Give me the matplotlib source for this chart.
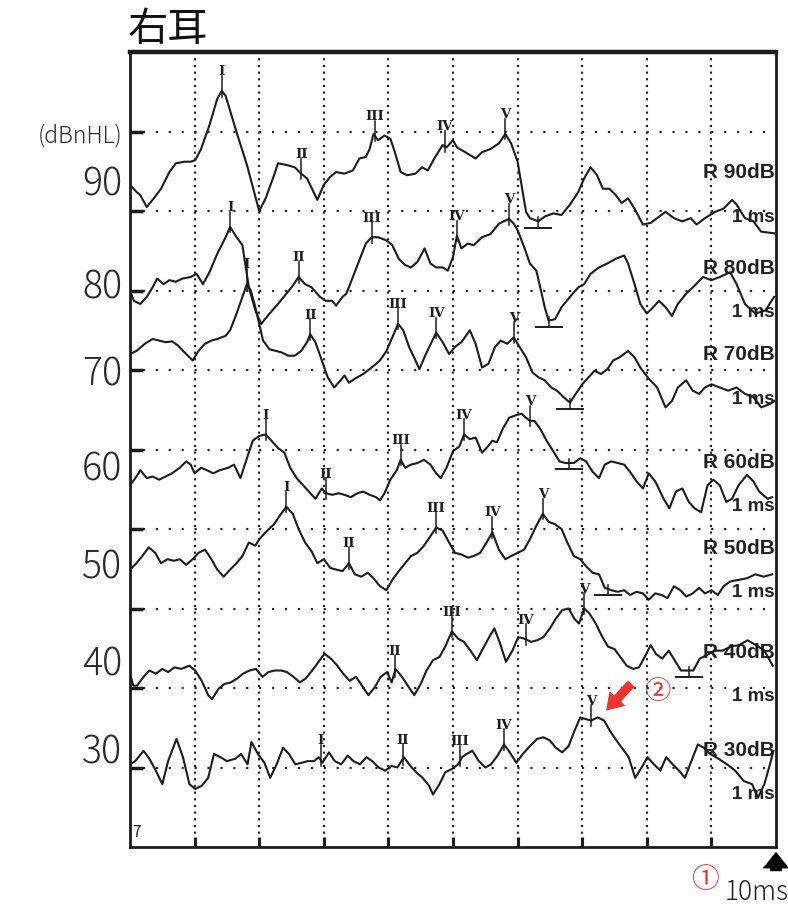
import numpy as np
import matplotlib
matplotlib.use("Agg")
import matplotlib.pyplot as plt
from matplotlib.patches import FancyArrowPatch

plt.rcParams['font.family'] = ['Noto Sans CJK JP', 'DejaVu Sans']

# ---------------- data (time in ms, amplitude in grid units) ----------------
t90 = [0.00,0.10,0.16,0.26,0.35,0.48,0.61,0.71,0.84,0.94,1.01,1.10,1.23,1.35,1.42,1.48,1.65,1.81,2.00,2.10,
       2.23,2.29,2.42,2.55,2.65,2.74,2.90,3.00,3.10,3.19,3.32,3.45,3.55,3.65,3.71,3.77,3.84,3.94,4.03,4.10,
       4.19,4.29,4.42,4.52,4.61,4.71,4.84,4.90,5.00,5.06,5.19,5.35,5.45,5.58,5.71,5.81,5.90,6.00,6.06,6.13,
       6.19,6.32,6.42,6.55,6.68,6.81,6.94,7.03,7.13,7.23,7.32,7.42,7.52,7.61,7.71,7.81,7.94,8.06,8.16,8.29,
       8.42,8.55,8.68,8.77,8.90,9.06,9.19,9.32,9.39,9.52,9.65,9.77,9.97]
v90 = [8.33,8.24,8.20,8.05,8.14,8.28,8.49,8.60,8.62,8.62,8.64,8.78,9.08,9.41,9.51,9.45,8.99,8.58,8.00,8.16,
       8.45,8.60,8.58,8.55,8.47,8.41,8.14,8.33,8.43,8.49,8.47,8.51,8.66,8.68,8.78,8.97,8.89,8.95,8.91,8.74,
       8.49,8.45,8.47,8.55,8.51,8.66,8.83,8.80,8.89,8.80,8.74,8.66,8.74,8.78,8.85,8.97,8.85,8.62,8.33,7.99,
       7.91,7.87,7.93,7.97,7.95,8.08,8.24,8.41,8.55,8.45,8.28,8.28,8.20,8.10,8.16,8.03,7.83,7.85,7.91,7.99,
       7.91,7.87,7.91,7.83,7.91,7.99,8.03,8.14,8.08,7.91,7.87,7.74,7.72]

t80 = [0.00,0.06,0.16,0.26,0.35,0.42,0.52,0.61,0.71,0.81,0.94,1.03,1.13,1.23,1.35,1.48,1.55,1.65,1.74,1.84,
       1.94,2.03,2.16,2.29,2.42,2.52,2.61,2.71,2.81,2.94,3.03,3.13,3.19,3.29,3.35,3.45,3.55,3.65,3.74,3.84,
       3.97,4.06,4.16,4.26,4.35,4.45,4.56,4.65,4.74,4.84,4.92,5.00,5.06,5.13,5.23,5.32,5.45,5.58,5.71,5.81,
       5.87,5.94,6.00,6.10,6.19,6.29,6.35,6.42,6.48,6.58,6.68,6.81,6.94,7.03,7.13,7.26,7.39,7.52,7.65,7.71,
       7.81,7.90,8.00,8.10,8.19,8.29,8.39,8.48,8.61,8.74,8.87,9.00,9.13,9.29,9.39,9.52,9.68,9.84,9.97]
v80 = [7.00,6.87,6.83,6.92,7.04,7.15,7.08,7.13,7.11,7.15,7.17,7.21,7.08,7.23,7.46,7.67,7.80,7.67,7.57,7.04,
       6.75,6.58,6.71,6.83,6.96,7.06,7.17,7.08,7.04,6.92,6.87,6.87,6.81,6.92,6.96,7.17,7.38,7.59,7.67,7.67,
       7.63,7.57,7.40,7.32,7.29,7.36,7.53,7.34,7.29,7.29,7.25,7.42,7.69,7.53,7.59,7.57,7.67,7.71,7.84,7.88,
       7.90,7.84,7.76,7.55,7.34,7.25,7.04,6.79,6.62,6.64,6.79,6.92,7.04,7.08,7.21,7.29,7.34,7.40,7.44,7.34,
       7.08,6.83,6.71,6.79,6.87,6.79,6.68,6.83,6.96,7.06,7.17,7.13,7.17,7.23,7.08,6.83,6.71,6.75,6.92]

t70 = [0.00,0.10,0.23,0.35,0.45,0.55,0.65,0.74,0.87,0.97,1.06,1.16,1.26,1.35,1.48,1.55,1.65,1.74,1.81,1.87,
       1.94,2.00,2.06,2.16,2.26,2.35,2.45,2.55,2.65,2.74,2.79,2.87,2.97,3.06,3.16,3.26,3.32,3.39,3.48,3.61,
       3.74,3.87,3.97,4.06,4.15,4.23,4.32,4.42,4.48,4.58,4.68,4.74,4.84,4.94,5.03,5.13,5.26,5.35,5.45,5.55,
       5.65,5.74,5.84,5.94,6.03,6.13,6.23,6.32,6.42,6.52,6.61,6.71,6.81,6.90,7.00,7.10,7.19,7.29,7.39,7.48,
       7.58,7.71,7.81,7.90,8.03,8.16,8.29,8.39,8.48,8.61,8.71,8.81,8.90,9.00,9.13,9.26,9.39,9.52,9.65,9.77,
       9.90,9.97]
v70 = [6.20,6.24,6.33,6.39,6.37,6.35,6.36,6.31,6.20,6.12,6.24,6.33,6.37,6.39,6.43,6.50,6.71,6.92,7.08,7.00,
       6.79,6.58,6.37,6.26,6.24,6.22,6.18,6.18,6.24,6.35,6.45,6.35,6.12,5.91,5.78,5.87,5.93,5.84,5.89,5.95,
       6.03,6.12,6.24,6.41,6.58,6.50,6.29,6.12,6.01,6.20,6.37,6.47,6.35,6.20,6.29,6.35,6.50,6.33,6.03,6.08,
       6.29,6.37,6.33,6.41,6.29,6.16,5.97,5.91,5.87,5.78,5.74,5.66,5.59,5.70,5.82,5.91,5.99,5.95,6.01,6.12,
       6.16,6.24,6.16,6.03,5.89,5.78,5.53,5.61,5.78,5.87,5.74,5.70,5.78,5.82,5.78,5.74,5.78,5.70,5.66,5.53,
       5.57,5.61]

t60 = [0.00,0.10,0.16,0.26,0.35,0.45,0.55,0.65,0.77,0.87,0.94,1.00,1.10,1.19,1.29,1.39,1.52,1.61,1.71,1.81,
       1.90,2.00,2.10,2.19,2.29,2.39,2.48,2.58,2.68,2.77,2.87,2.97,3.03,3.13,3.23,3.32,3.42,3.52,3.61,3.71,
       3.81,3.87,3.94,4.03,4.13,4.19,4.26,4.35,4.45,4.55,4.65,4.74,4.81,4.90,5.00,5.10,5.17,5.26,5.35,5.45,
       5.52,5.61,5.68,5.77,5.87,5.97,6.06,6.13,6.19,6.26,6.35,6.45,6.55,6.65,6.74,6.87,6.97,7.06,7.16,7.26,
       7.35,7.45,7.55,7.65,7.74,7.84,7.94,8.03,8.13,8.26,8.35,8.45,8.55,8.65,8.74,8.84,8.94,9.03,9.13,9.23,
       9.32,9.42,9.55,9.65,9.74,9.87,9.94]
v60 = [4.55,4.66,4.74,4.64,4.66,4.62,4.66,4.70,4.77,4.85,4.81,4.70,4.77,4.74,4.70,4.74,4.77,4.81,4.64,4.89,
       5.11,5.17,5.19,5.11,5.02,4.96,4.77,4.64,4.55,4.47,4.38,4.51,4.45,4.43,4.45,4.43,4.40,4.45,4.47,4.43,
       4.40,4.36,4.45,4.62,4.74,4.87,4.77,4.81,4.83,4.87,4.81,4.70,4.64,4.77,4.98,5.04,5.19,5.13,5.15,4.96,
       5.02,5.11,5.09,5.26,5.40,5.43,5.45,5.40,5.36,5.36,5.26,5.11,4.98,4.85,4.83,4.83,4.89,4.85,4.72,4.64,
       4.81,4.85,4.83,4.81,4.72,4.60,4.51,4.70,4.60,4.38,4.26,4.47,4.51,4.34,4.26,4.21,4.55,4.62,4.55,4.34,
       4.38,4.55,4.68,4.60,4.47,4.38,4.40]

t50 = [0.00,0.10,0.19,0.29,0.39,0.48,0.58,0.68,0.77,0.87,0.97,1.06,1.16,1.26,1.35,1.45,1.55,1.65,1.74,1.84,
       1.94,2.00,2.10,2.23,2.32,2.42,2.52,2.61,2.71,2.81,2.90,3.00,3.10,3.19,3.29,3.39,3.48,3.58,3.68,3.77,
       3.87,3.97,4.06,4.16,4.26,4.35,4.45,4.55,4.65,4.74,4.84,4.94,5.03,5.13,5.23,5.32,5.42,5.52,5.61,5.71,
       5.81,5.90,6.00,6.10,6.19,6.29,6.39,6.48,6.58,6.68,6.77,6.87,6.97,7.06,7.16,7.26,7.35,7.45,7.55,7.65,
       7.74,7.84,7.94,8.03,8.13,8.23,8.32,8.42,8.52,8.61,8.71,8.81,8.90,9.00,9.10,9.19,9.29,9.42,9.55,9.68,
       9.81,9.94]
v50 = [3.49,3.57,3.66,3.77,3.70,3.57,3.62,3.60,3.62,3.55,3.62,3.70,3.74,3.62,3.49,3.40,3.49,3.57,3.66,3.83,
       3.79,3.87,3.96,4.06,4.17,4.28,4.19,4.00,3.83,3.72,3.57,3.62,3.51,3.49,3.47,3.57,3.43,3.40,3.45,3.38,
       3.28,3.23,3.36,3.47,3.57,3.66,3.70,3.79,3.91,4.02,3.98,3.83,3.70,3.68,3.64,3.66,3.70,3.83,3.96,3.74,
       3.62,3.66,3.70,3.74,3.87,4.04,4.19,4.09,4.06,4.00,3.83,3.66,3.62,3.53,3.45,3.43,3.26,3.23,3.21,3.23,
       3.17,3.21,3.19,3.11,3.19,3.17,3.13,3.28,3.23,3.15,3.19,3.26,3.19,3.23,3.17,3.28,3.34,3.36,3.38,3.43,
       3.40,3.43]

t40 = [0.00,0.05,0.11,0.21,0.30,0.40,0.50,0.59,0.69,0.79,0.92,1.01,1.11,1.21,1.27,1.37,1.46,1.56,1.66,1.75,
       1.85,1.95,2.05,2.14,2.24,2.34,2.43,2.53,2.63,2.72,2.82,2.92,3.01,3.11,3.21,3.30,3.40,3.50,3.59,3.69,
       3.79,3.88,3.98,4.05,4.11,4.21,4.30,4.40,4.50,4.59,4.69,4.79,4.88,4.98,5.08,5.17,5.27,5.37,5.46,5.56,
       5.64,5.72,5.82,5.92,6.01,6.11,6.21,6.30,6.40,6.50,6.59,6.69,6.79,6.88,6.95,7.03,7.11,7.21,7.30,7.40,
       7.50,7.59,7.69,7.79,7.88,7.98,8.06,8.14,8.24,8.34,8.43,8.53,8.63,8.72,8.82,8.92,9.05,9.17,9.30,9.43,
       9.56,9.69,9.82,9.95]
v40 = [2.18,2.03,2.03,2.14,2.22,2.18,2.24,2.20,2.26,2.24,2.28,2.22,2.09,1.91,1.86,1.99,2.05,2.07,2.12,2.18,
       2.22,2.24,2.14,2.20,2.22,2.22,2.20,2.14,2.07,2.12,2.22,2.33,2.43,2.37,2.28,2.18,2.09,2.14,2.03,1.91,
       2.01,2.14,2.20,2.07,2.24,2.14,2.03,1.91,2.05,2.22,2.35,2.39,2.52,2.71,2.62,2.58,2.47,2.35,2.49,2.64,
       2.75,2.58,2.33,2.47,2.64,2.62,2.58,2.60,2.64,2.75,2.87,2.98,3.00,2.87,2.81,3.00,2.94,2.81,2.66,2.52,
       2.49,2.39,2.28,2.24,2.26,2.41,2.54,2.43,2.37,2.47,2.35,2.22,2.22,2.22,2.37,2.41,2.47,2.47,2.52,2.54,
       2.60,2.54,2.47,2.28]

t30 = [0.00,0.08,0.21,0.30,0.40,0.50,0.59,0.72,0.82,0.92,1.01,1.11,1.21,1.30,1.40,1.50,1.63,1.72,1.82,1.88,
       1.98,2.08,2.17,2.27,2.37,2.46,2.56,2.66,2.75,2.85,2.92,2.98,3.08,3.17,3.27,3.37,3.46,3.56,3.66,3.75,
       3.85,3.95,4.05,4.14,4.24,4.34,4.43,4.53,4.63,4.69,4.79,4.88,4.98,5.08,5.14,5.21,5.30,5.40,5.50,5.59,
       5.69,5.79,5.88,5.98,6.08,6.17,6.30,6.40,6.50,6.59,6.69,6.79,6.88,6.97,7.05,7.14,7.24,7.34,7.43,7.53,
       7.63,7.72,7.82,7.92,8.01,8.11,8.21,8.30,8.40,8.50,8.59,8.69,8.79,8.88,8.98,9.11,9.24,9.37,9.50,9.63,
       9.72,9.82,9.92,9.96]
v30 = [1.04,1.08,1.21,1.11,0.96,0.79,1.08,1.36,1.13,0.79,0.73,0.77,0.87,1.17,1.13,1.08,1.11,1.17,1.04,1.32,
       1.17,1.06,0.87,1.04,1.25,1.17,1.04,1.06,1.08,1.08,1.13,1.06,1.19,1.08,1.04,1.15,1.08,1.04,1.13,1.08,
       1.00,0.96,1.02,1.00,1.13,1.02,0.94,0.87,0.77,0.66,0.79,0.94,0.98,1.04,1.13,1.17,1.21,1.08,1.00,1.04,
       1.15,1.29,1.19,1.06,1.17,1.25,1.36,1.38,1.34,1.25,1.19,1.27,1.46,1.63,1.61,1.59,1.63,1.59,1.46,1.34,
       1.23,1.13,0.87,1.00,1.13,1.04,0.96,1.13,1.04,0.96,0.87,1.08,1.29,1.25,1.17,1.11,1.04,0.96,0.83,0.79,
       0.62,0.79,1.08,1.21]

numerals = ['I', 'II', 'III', 'IV', 'V']
peaks90 = [1.42, 2.65, 3.79, 4.87, 5.81]
peaks80 = [1.55, 2.61, 3.74, 5.06, 5.87]
peaks70 = [1.81, 2.79, 4.15, 4.74, 5.94]
peaks60 = [2.10, 3.03, 4.19, 5.17, 6.19]
peaks50 = [2.42, 3.39, 4.74, 5.61, 6.39]
peaks40 = [None, 4.10, 4.98, 6.13, 7.03]
peaks30 = [2.95, 4.22, 5.11, 5.79, 7.14]
troughs = [6.32, 6.48, 6.81, 6.80, 7.40, 8.65, None]

levels_db = ['90', '80', '70', '60', '50', '40', '30']

# ---------------- layout ----------------
W, H = 788, 907
fig = plt.figure(figsize=(W / 100, H / 100), dpi=100)
fig.patch.set_facecolor('white')
ax = fig.add_axes([130 / W, 1 - 847 / H, 646 / W, 795 / H])
ax.set_xlim(0, 10)
ax.set_ylim(0, 10)

ink = '#1c1c1c'

# grid
for g in range(1, 10):
    ax.axvline(g, color=ink, lw=1.5, linestyle=(0, (1, 2.2)), zorder=1)
    ax.axhline(g, color=ink, lw=1.5, linestyle=(0, (1, 5.2)), zorder=1)

for sp in ['left', 'right', 'bottom']:
    ax.spines[sp].set_linewidth(2.0)
    ax.spines[sp].set_color(ink)
ax.spines['top'].set_linewidth(3.2)
ax.spines['top'].set_color(ink)

ax.set_xticks(range(1, 10))
ax.set_yticks(range(1, 10))
ax.tick_params(axis='x', direction='in', length=7, width=2.2, color=ink, labelbottom=False)
ax.tick_params(axis='y', direction='in', length=9, width=2.5, color=ink, labelleft=False)

traces = [(t90, v90, peaks90), (t80, v80, peaks80), (t70, v70, peaks70), (t60, v60, peaks60),
          (t50, v50, peaks50), (t40, v40, peaks40), (t30, v30, peaks30)]

label_levels = [8.33, 7.04, 5.94, 4.74, 3.51, 2.29, 1.19]
right_levels = [8.48, 7.28, 6.19, 4.84, 3.76, 2.45, 1.22]

for i, (t, v, pk) in enumerate(traces):
    # right-side labels (drawn beneath the trace)
    ax.text(9.98, right_levels[i], 'R ' + levels_db[i] + 'dB', ha='right', va='center',
            fontsize=15, family=['Liberation Sans'], weight='bold', color='#222222', zorder=2)
    ax.text(9.98, right_levels[i] - 0.56, '1 ms', ha='right', va='center',
            fontsize=13.5, family=['Liberation Sans'], weight='bold', color='#222222', zorder=2)
    ax.plot(t, v, color=ink, lw=1.5, solid_joinstyle='round', zorder=3)
    for name, tp in zip(numerals, pk):
        if tp is None:
            continue
        yp = np.interp(tp, t, v)
        ax.plot([tp, tp], [yp - 0.07, yp + 0.19], color=ink, lw=1.1, zorder=3)
        ax.text(tp, yp + 0.16, name, ha='center', va='bottom', fontsize=9.5,
                family=['DejaVu Serif'], weight='bold', color=ink, zorder=4)
    if troughs[i] is not None:
        tt = troughs[i]
        yt = np.interp(tt, t, v)
        ax.plot([tt - 0.2, tt + 0.2], [yt - 0.08, yt - 0.08], color=ink, lw=1.4, zorder=3)
        ax.plot([tt, tt], [yt - 0.08, yt + 0.05], color=ink, lw=1.1, zorder=3)
    # left dB labels
    ax.text(-0.12, label_levels[i], levels_db[i], ha='right', va='center',
            fontsize=27, weight='light', color='#2a2a2a', clip_on=False)

ax.text(-0.12, 8.95, '(dBnHL)', ha='right', va='center', fontsize=16.5, weight='light',
        color='#2a2a2a', clip_on=False)
ax.text(0.03, 0.18, '7', ha='left', va='center', fontsize=11, color=ink)

# title
fig.text(128 / W, 1 - 30 / H, '右耳', ha='left', va='center', fontsize=29, color='#111111')

# red annotation (2)
ax.add_patch(FancyArrowPatch((7.79, 2.08), (7.34, 1.69),
                             arrowstyle='simple,head_width=1.3,head_length=1.0,tail_width=0.55',
                             mutation_scale=12, color='#ee3333', zorder=5, lw=0))
ax.text(8.16, 1.95, '②', ha='center', va='center', fontsize=19, color='#ee3333', zorder=5)

# bottom-right annotations
fig.text(705 / W, 1 - 880 / H, '①', ha='center', va='center', fontsize=20, color='#ee3333')
fig.text(725 / W, 1 - 892 / H, '10ms', ha='left', va='center', fontsize=19, weight='light', color='#222222')
fig.add_artist(FancyArrowPatch((776 / W, 1 - 874 / H), (776 / W, 1 - 849 / H), transform=fig.transFigure,
                               arrowstyle='simple,head_width=1.6,head_length=1.0,tail_width=0.7',
                               mutation_scale=12, color='black', lw=0))

fig.savefig('out.png', dpi=100, facecolor='white')
